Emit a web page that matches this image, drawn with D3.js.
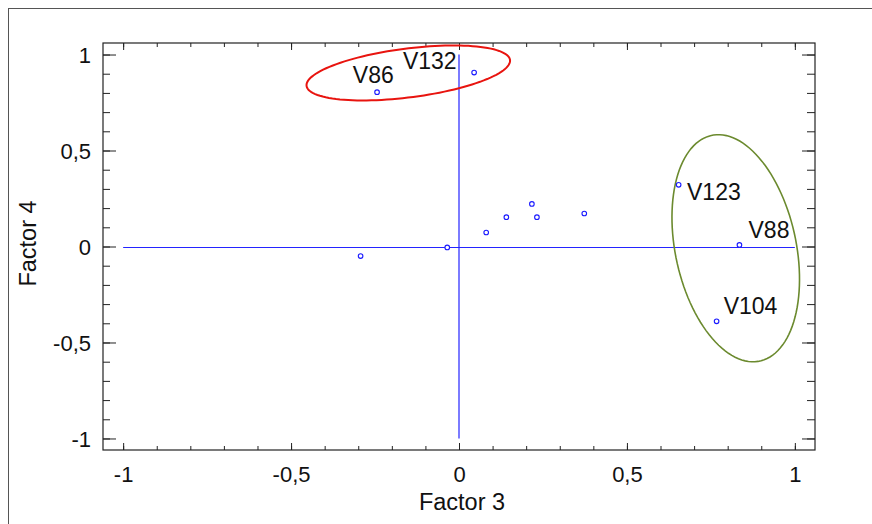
<!DOCTYPE html>
<html>
<head>
<meta charset="utf-8">
<script src="https://cdn.jsdelivr.net/npm/d3@7"></script>
<style>
  body { margin: 0; background: #fff; }
  text { font-family: "Liberation Sans", Arial, sans-serif; fill: #111; }
</style>
</head>
<body>
<div id="chart"></div>
<script>
// loadings (Factor 3, Factor 4)
var factor3 = [-0.244, 0.045, -0.293, -0.035, 0.081, 0.141, 0.217, 0.232, 0.373, 0.654, 0.835, 0.767];
var factor4 = [0.804, 0.906, -0.050, -0.005, 0.073, 0.153, 0.222, 0.153, 0.172, 0.321, 0.008, -0.390];

// variable labels, anchored in data units
var labelText = ["V86", "V132", "V123", "V88", "V104"];
var labelX = [-0.316, -0.167, 0.679, 0.862, 0.788];
var labelY = [0.851, 0.923, 0.241, 0.045, -0.353];

// grouping ellipses (data units, angle in degrees)
var ellipses = [
  {cx: -0.151, cy: 0.904, rx: 0.311, ry: 0.125, angle: 14.2, color: "#e8140f", w: 2},
  {cx: 0.824, cy: -0.009, rx: 0.594, ry: 0.182, angle: -84.5, color: "#6b8a2e", w: 1.6}
];

var majorTicks = [-1, -0.5, 0, 0.5, 1];
var minorTicks = d3.range(-10, 11).map(d => d / 10);

var margin = {top: 43, right: 57, bottom: 74, left: 103},
    width = 872 - margin.left - margin.right,
    height = 524 - margin.top - margin.bottom;

var svg0 = d3.select("#chart")
  .append("svg")
    .attr("width", 872)
    .attr("height", 524);

// outer frame (runs off right and bottom)
svg0.append("rect")
  .attr("x", 8.5).attr("y", 8.5)
  .attr("width", 900).attr("height", 600)
  .attr("fill", "none")
  .attr("stroke", "#555");

var svg = svg0.append("g")
  .attr("transform", "translate(" + margin.left + "," + margin.top + ")");

var x = d3.scaleLinear().domain([-1.06, 1.06]).range([0, width]);
var y = d3.scaleLinear().domain([-1.06, 1.06]).range([height, 0]);

var loc = d3.formatLocale({decimal: ",", thousands: ".", grouping: [3], currency: ["", ""], minus: "-"});
var fmt = loc.format("");

// minor ticks on all four sides
function tickAxis(axis, size, sel) {
  sel.call(axis.tickValues(minorTicks).tickSize(size).tickFormat(""));
}
var gMinB = svg.append("g").attr("transform", "translate(0," + height + ")");
tickAxis(d3.axisBottom(x), -4, gMinB);
var gMinT = svg.append("g");
tickAxis(d3.axisTop(x), -4, gMinT);
var gMinL = svg.append("g");
tickAxis(d3.axisLeft(y), -7, gMinL);
var gMinR = svg.append("g").attr("transform", "translate(" + width + ",0)");
tickAxis(d3.axisRight(y), -8, gMinR);

// major ticks
var gB = svg.append("g").attr("transform", "translate(0," + height + ")")
  .call(d3.axisBottom(x).tickValues(majorTicks).tickSize(-7).tickFormat(fmt));
gB.selectAll("text").attr("y", 32).attr("dy", 0);

svg.append("g").call(d3.axisTop(x).tickValues(majorTicks).tickSize(-7).tickFormat(""));

var gL = svg.append("g")
  .call(d3.axisLeft(y).tickValues(majorTicks).tickSize(-13).tickFormat(fmt));
gL.selectAll("text").attr("x", -12).attr("dy", "0.36em");

svg.append("g").attr("transform", "translate(" + width + ",0)")
  .call(d3.axisRight(y).tickValues(majorTicks).tickSize(-13).tickFormat(""));

svg.selectAll(".domain").remove();
svg.selectAll(".tick line").attr("stroke", "#222");
svg.selectAll(".tick text").attr("font-size", "22px").attr("font-family", "Liberation Sans, Arial, sans-serif").attr("fill", "#111");

// plot frame
svg.append("rect")
  .attr("width", width).attr("height", height)
  .attr("fill", "none")
  .attr("stroke", "#222")
  .attr("stroke-width", 1.2);

// zero lines
var zero = svg.append("g").attr("class", "zero");
zero.append("line")
  .attr("x1", x(-1)).attr("x2", x(1))
  .attr("y1", Math.round(y(0)) + 0.5).attr("y2", Math.round(y(0)) + 0.5)
  .style("stroke", "#2424ff")
  .style("stroke-width", 1.2);
zero.append("line")
  .attr("x1", Math.round(x(0))).attr("x2", Math.round(x(0)))
  .attr("y1", y(1)).attr("y2", y(-1))
  .style("stroke", "#2424ff")
  .style("stroke-width", 1.2);

// ellipses
var line = d3.line().x(d => x(d[0])).y(d => y(d[1]));
ellipses.forEach(function(e) {
  var a = e.angle * Math.PI / 180;
  var pts = d3.range(0, 361, 3).map(function(t) {
    t = t * Math.PI / 180;
    return [e.cx + e.rx * Math.cos(t) * Math.cos(a) - e.ry * Math.sin(t) * Math.sin(a),
            e.cy + e.rx * Math.cos(t) * Math.sin(a) + e.ry * Math.sin(t) * Math.cos(a)];
  });
  svg.append("path")
    .attr("d", line(pts) + "Z")
    .attr("fill", "none")
    .attr("stroke", e.color)
    .attr("stroke-width", e.w);
});

// points
svg.append("g")
  .selectAll("circle")
  .data(factor3)
  .enter()
  .append("circle")
    .attr("cx", d => x(d))
    .attr("cy", (d, i) => y(factor4[i]))
    .attr("r", 2.3)
    .attr("fill", "#fff")
    .attr("stroke", "#1a1aff")
    .attr("stroke-width", 1.1);

// labels
svg.append("g")
  .selectAll("text")
  .data(labelText)
  .enter()
  .append("text")
    .attr("x", (d, i) => x(labelX[i]))
    .attr("y", (d, i) => y(labelY[i]))
    .attr("font-size", "23px")
    .text(d => d);

// axis titles
svg.append("text")
  .attr("x", width / 2 + 3)
  .attr("y", height + 60)
  .attr("text-anchor", "middle")
  .attr("font-size", "23.5px")
  .text("Factor 3");

svg.append("text")
  .attr("transform", "rotate(-90)")
  .attr("x", -height / 2 + 3)
  .attr("y", -margin.left + 36)
  .attr("text-anchor", "middle")
  .attr("font-size", "23.5px")
  .text("Factor 4");
</script>
</body>
</html>
